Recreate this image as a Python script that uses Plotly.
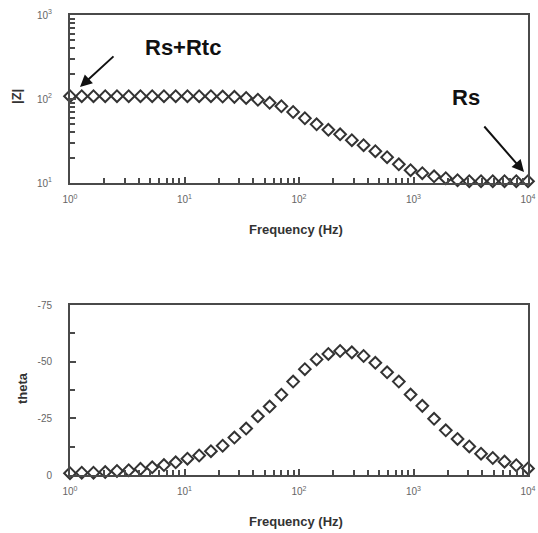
import plotly.graph_objects as go

# Frequencies (Hz) (about 10 points per decade, 1 Hz to 10 kHz)
freq = [1, 1.266, 1.604, 2.031, 2.572, 3.257, 4.125, 5.223, 6.614, 8.377,
        10.61, 13.43, 17.01, 21.54, 27.28, 34.55, 43.75, 55.41, 70.17, 88.86,
        112.5, 142.5, 180.5, 228.6, 289.4, 366.5, 464.2, 587.8, 744.4, 942.7,
        1194, 1512, 1914, 2424, 3070, 3888, 4924, 6236, 7897, 10000]

# |Z| (ohm)
zmod = [108, 108, 108, 108, 108, 108, 108, 108, 108, 108,
        108, 108, 108, 107, 106, 103, 98, 90, 82, 70,
        59, 50, 43, 38, 32.3, 28.2, 23.9, 20.3, 16.7, 14.2,
        13.1, 12.0, 11.4, 10.8, 10.5, 10.5, 10.5, 10.5, 10.5, 10.5]

# phase angle (degrees)
theta = [-0.8, -1.0, -1.0, -1.3, -1.8, -2.1, -2.7, -3.4, -4.4, -5.6,
         -7.2, -8.6, -10.5, -12.9, -16.5, -20.5, -25.9, -30.2, -35.4, -41.2,
         -46.7, -51.0, -53.4, -54.7, -54.1, -52.5, -49.5, -45.3, -41.2, -35.5,
         -30.5, -24.8, -19.7, -15.9, -12.6, -9.4, -7.5, -5.9, -4.3, -2.9]

# axis ticks
x_tickvals = [1, 10, 100, 1000, 10000]
x_ticktext = ["10<sup>0</sup>", "10<sup>1</sup>", "10<sup>2</sup>", "10<sup>3</sup>", "10<sup>4</sup>"]
x_minorvals = [m * 10 ** d for d in range(4) for m in range(2, 10)]
z_tickvals = [10, 100, 1000]
z_ticktext = ["10<sup>1</sup>", "10<sup>2</sup>", "10<sup>3</sup>"]
z_minorvals = [m * 10 ** d for d in range(1, 3) for m in range(2, 10)]
t_tickvals = [0, -25, -50, -75]
t_ticktext = ["0", "-25", "-50", "-75"]
t_minorvals = [-12.5, -37.5, -62.5]

W, H = 538, 533


def px(x):
    return x / W


def py(y):
    return 1 - y / H


LINE = "#4a4a4a"
TICKFONT = dict(family="Liberation Sans, Arial", size=10, color="#666666")

marker = dict(symbol="diamond-open", size=9, color="#333333",
              line=dict(width=2, color="#333333"))

fig = go.Figure()
fig.add_trace(go.Scatter(x=freq, y=zmod, mode="markers", marker=marker,
                         xaxis="x", yaxis="y", cliponaxis=False, showlegend=False))
fig.add_trace(go.Scatter(x=freq, y=theta, mode="markers", marker=marker,
                         xaxis="x2", yaxis="y2", cliponaxis=False, showlegend=False))

xdom = [px(70), px(528)]


def axis(minorvals, standoff, **kw):
    d = dict(showline=True, linewidth=2, linecolor=LINE, mirror=True,
             showgrid=False, zeroline=False, ticks="inside", ticklen=6,
             tickwidth=1.5, tickcolor=LINE, tickfont=TICKFONT, automargin=False,
             tickmode="array", ticklabeloverflow="allow", ticklabelstandoff=standoff,
             minor=dict(tickmode="array", tickvals=minorvals, ticks="inside",
                        ticklen=5, tickwidth=1.5, tickcolor=LINE, showgrid=False))
    d.update(kw)
    return d


fig.update_layout(
    width=W, height=H, margin=dict(l=0, r=0, t=0, b=0, autoexpand=False),
    paper_bgcolor="white", plot_bgcolor="white",
    xaxis=axis(x_minorvals, 6, domain=xdom, anchor="y", type="log", range=[0, 4],
               tickvals=x_tickvals, ticktext=x_ticktext),
    yaxis=axis(z_minorvals, 14, domain=[py(183), py(15)], anchor="x", type="log",
               range=[1, 3], tickvals=z_tickvals, ticktext=z_ticktext),
    xaxis2=axis(x_minorvals, 6, domain=xdom, anchor="y2", type="log", range=[0, 4],
                tickvals=x_tickvals, ticktext=x_ticktext),
    yaxis2=axis(t_minorvals, 14, domain=[py(475), py(305)], anchor="x2",
                range=[0, -75], tickvals=t_tickvals, ticktext=t_ticktext),
)

title_font = dict(family="Liberation Sans, Arial", size=13, color="#333333")
big_font = dict(family="Liberation Sans, Arial", size=22, color="#111111")


def label(text, x, y, font, angle=0):
    return dict(text=text, x=px(x), y=py(y), xref="paper", yref="paper",
                xanchor="center", yanchor="middle", showarrow=False,
                textangle=angle, font=font)


def arrow(hx, hy, tx, ty):
    return dict(text="", x=px(hx), y=py(hy), xref="paper", yref="paper",
                showarrow=True, ax=tx - hx, ay=ty - hy, arrowhead=2, arrowsize=1.2,
                arrowwidth=2, arrowcolor="#111111")


annotations = [
    label("<b>Frequency (Hz)</b>", 296, 230, title_font),
    label("<b>Frequency (Hz)</b>", 296, 521, title_font),
    label("<b>|Z|</b>", 16, 97, title_font, -90),
    label("<b>theta</b>", 22, 388, title_font, -90),
    label("<b>Rs+Rtc</b>", 183, 48, big_font),
    label("<b>Rs</b>", 466, 97, big_font),
    arrow(80, 87, 115, 55),
    arrow(524, 172, 483, 125),
]
fig.update_layout(annotations=annotations)

# remove the default page margin so the 538x533 figure fills the window exactly
fig.write_html("out.html", config={"displayModeBar": False},
               post_script="document.body.style.margin='0';document.body.style.overflow='hidden';")
